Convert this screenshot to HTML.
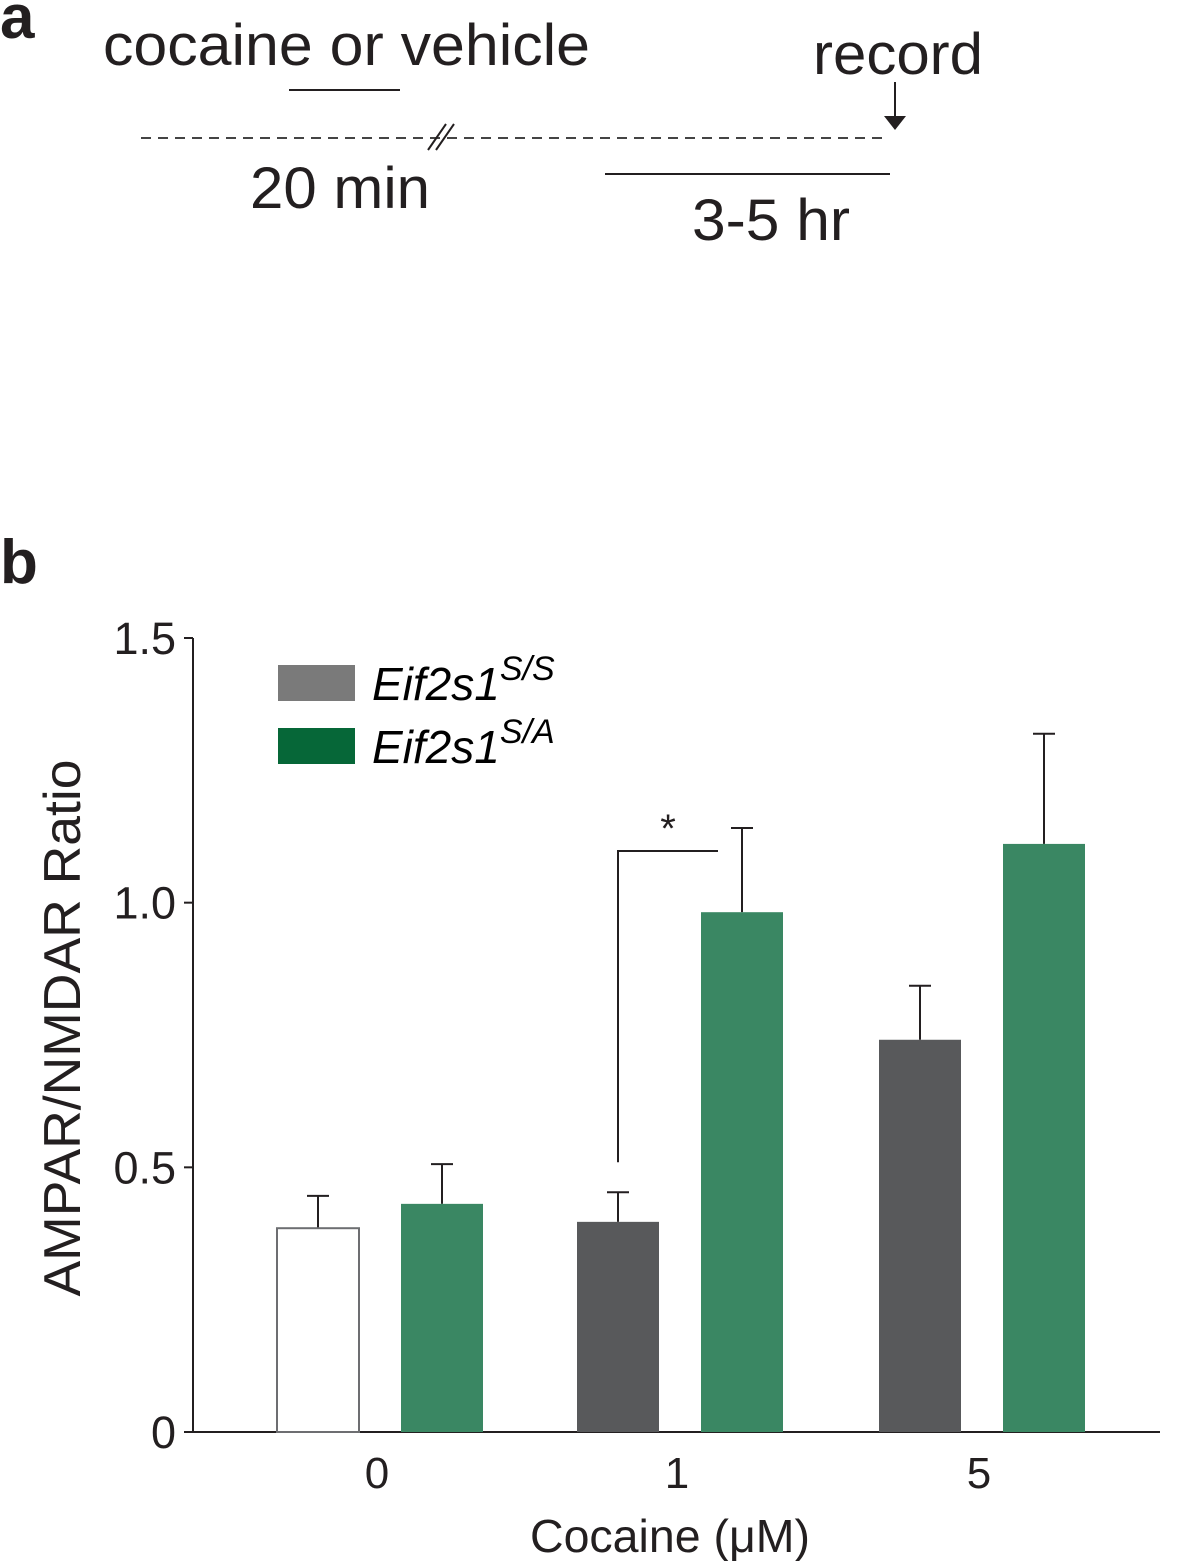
<!DOCTYPE html>
<html><head><meta charset="utf-8"><style>
html,body{margin:0;padding:0;background:#fff}
svg{display:block;font-family:"Liberation Sans",Arial,sans-serif}
</style></head><body>
<svg id="fig" width="1181" height="1561" viewBox="0 0 1181 1561">
<g>
<text x="0" y="38" font-size="62" font-weight="bold" fill="#231f20">a</text>
<text x="103" y="65" font-size="58" fill="#231f20" textLength="487" lengthAdjust="spacingAndGlyphs">cocaine or vehicle</text>
<line x1="289" y1="90" x2="400" y2="90" stroke="#231f20" stroke-width="2"/>
<line x1="141" y1="138" x2="885" y2="138" stroke="#444" stroke-width="2" stroke-dasharray="10,7"/>
<path d="M428,150 L446,124 M436,150 L454,124" stroke="#231f20" stroke-width="2"/>
<text x="250" y="208" font-size="58" fill="#231f20" textLength="180" lengthAdjust="spacingAndGlyphs">20 min</text>
<line x1="605" y1="174" x2="890" y2="174" stroke="#231f20" stroke-width="2"/>
<text x="692" y="240" font-size="58" fill="#231f20" textLength="158" lengthAdjust="spacingAndGlyphs">3-5 hr</text>
<text x="813" y="74" font-size="58" fill="#231f20" textLength="170" lengthAdjust="spacingAndGlyphs">record</text>
<line x1="895" y1="82" x2="895" y2="118" stroke="#231f20" stroke-width="2"/>
<path d="M884,116 L906,116 L895,130 Z" fill="#231f20"/>
</g>
<text x="0" y="583" font-size="62" font-weight="bold" fill="#231f20">b</text>
<g id="chart"></g>
</svg>
<script>
const categories = ["0","1","5"];
const ssValues = [0.385, 0.397, 0.741];
const ssErrors = [0.061, 0.056, 0.102];
const saValues = [0.431, 0.982, 1.111];
const saErrors = [0.075, 0.159, 0.208];
const yTicks = [0, 0.5, 1.0, 1.5];
const yTickLabels = ["0","0.5","1.0","1.5"];

const NS = "http://www.w3.org/2000/svg";
const g = document.getElementById("chart");
const y0 = 1432, yTop = 638, yMax = 1.5;
const yScale = v => y0 - (v / yMax) * (y0 - yTop);
const groupCenters = [380, 680, 982];
const xScale = i => groupCenters[i];
const barW = 82, offset = 62;
function el(tag, attrs){ const e=document.createElementNS(NS,tag); for(const k in attrs) e.setAttribute(k,attrs[k]); g.appendChild(e); return e; }

let a = el("line",{x1:193,y1:yTop,x2:193,y2:y0,stroke:"#231f20","stroke-width":2});


a = el("line",{x1:192,y1:y0,x2:1160,y2:y0,stroke:"#231f20","stroke-width":2});


yTicks.forEach((t,i)=>{
  const y=yScale(t);
  const tk = el("line",{x1:184,y1:y,x2:193,y2:y,stroke:"#231f20","stroke-width":2});
  
  
  const tl = el("text",{x:176,y:y+16,"font-size":45,"text-anchor":"end",fill:"#231f20"});
  tl.textContent = yTickLabels[i];
  
  
});
categories.forEach((c,i)=>{
  const tl = el("text",{x:xScale(i)-3,y:1488,"font-size":44,"text-anchor":"middle",fill:"#231f20"});
  tl.textContent = c;
  
  
});
let t = el("text",{x:670,y:1552,"font-size":46,"text-anchor":"middle",fill:"#231f20",textLength:280,lengthAdjust:"spacingAndGlyphs"});
t.textContent = "Cocaine (\u03bcM)";


t = el("text",{x:0,y:0,"font-size":52,"text-anchor":"middle",fill:"#231f20",textLength:537,lengthAdjust:"spacingAndGlyphs",transform:"translate(80,1028) rotate(-90)"});
t.textContent = "AMPAR/NMDAR Ratio";



function bar(cx, v, e, fill, stroke, name){
  const top = yScale(v), eTop = yScale(v+e);
  const l = el("line",{x1:cx,y1:top,x2:cx,y2:eTop,stroke:"#231f20","stroke-width":2});
  
  
  const cap = el("line",{x1:cx-11,y1:eTop,x2:cx+11,y2:eTop,stroke:"#231f20","stroke-width":2});
  
  
  const r = el("rect",{x:cx-barW/2,y:top,width:barW,height:y0-top,fill:fill,stroke:stroke,"stroke-width":stroke==="none"?0:2});
  
  
}
categories.forEach((c,i)=>{
  const cx = xScale(i);
  bar(cx-offset, ssValues[i], ssErrors[i], i===0?"#fff":"#58595b", i===0?"#6d6e71":"none", "bar-ss-"+c);
  bar(cx+offset, saValues[i], saErrors[i], "#3a8763", "none", "bar-sa-"+c);
});
const bx1 = xScale(1)-offset, bx2 = xScale(1)+offset-24;
const by = 851;
let s = el("path",{d:`M${bx1},${yScale(ssValues[1]+ssErrors[1])-30} L${bx1},${by} L${bx2},${by}`,fill:"none",stroke:"#231f20","stroke-width":2});


s = el("text",{x:(bx1+bx2)/2,y:842,"font-size":40,"text-anchor":"middle",fill:"#231f20"});
s.textContent = "*";



const leg = [["#7a7a7a","S/S",665],["#066738","S/A",728]];
leg.forEach(([col,sup,y])=>{
  const r = el("rect",{x:278,y:y,width:77,height:36,fill:col});
  
  
  const tx = el("text",{x:372,y:y+35,"font-size":46,"font-style":"italic",fill:"#000"});
  tx.innerHTML = 'Eif2s1<tspan font-size="34" dy="-20">'+sup+'</tspan>';
  
  
});
</script>
</body></html>
